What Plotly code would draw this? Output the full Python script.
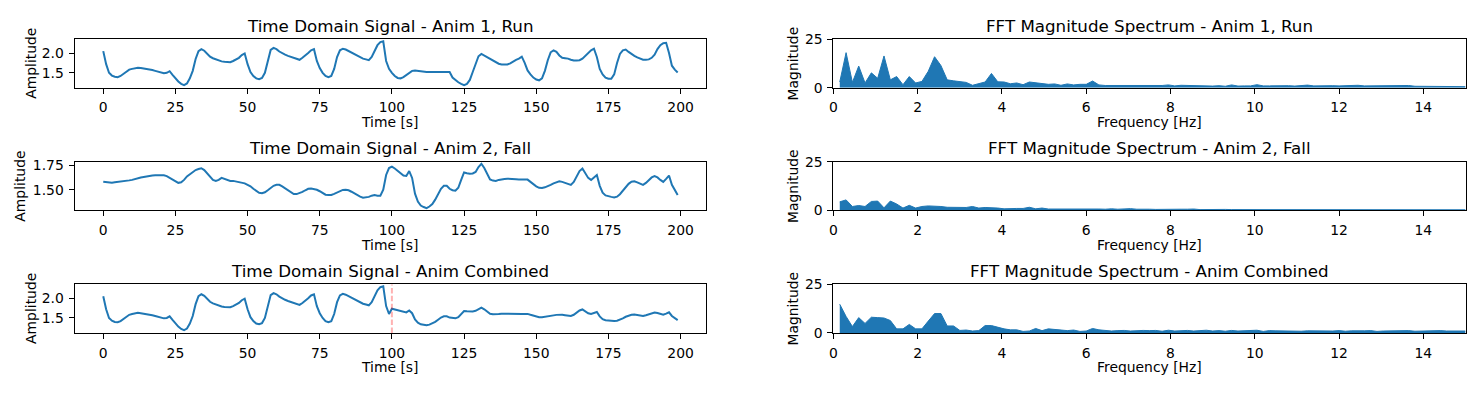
import numpy as np
import plotly.graph_objs as go

# Окно 1475x393, у body стандартный отступ 8px
PAGE_W, PAGE_H = 1475, 393
BODY_MARGIN = 8
W, H = PAGE_W - 2 * BODY_MARGIN, PAGE_H - 2 * BODY_MARGIN

# Временные сигналы (200 отсчётов)
time_s = list(range(200))

run_signal = [
    2.05, 1.72, 1.50, 1.43, 1.40, 1.39, 1.42, 1.48, 1.54, 1.58,
    1.60, 1.62, 1.63, 1.62, 1.61, 1.60, 1.58, 1.57, 1.55, 1.53,
    1.51, 1.49, 1.50, 1.54, 1.45, 1.36, 1.28, 1.22, 1.19, 1.23,
    1.36, 1.55, 1.85, 2.05, 2.10, 2.06, 1.98, 1.91, 1.87, 1.84,
    1.81, 1.79, 1.78, 1.77, 1.77, 1.80, 1.84, 1.88, 1.95, 1.99,
    1.72, 1.52, 1.42, 1.36, 1.34, 1.37, 1.50, 1.80, 2.08, 2.13,
    2.10, 2.04, 1.99, 1.96, 1.93, 1.90, 1.87, 1.84, 1.83, 1.88,
    1.93, 2.00, 2.07, 2.10, 1.80, 1.62, 1.50, 1.42, 1.39, 1.42,
    1.60, 1.90, 2.07, 2.11, 2.09, 2.05, 2.00, 1.96, 1.92, 1.89,
    1.86, 1.84, 1.82, 1.90, 2.05, 2.20, 2.28, 2.30, 1.80, 1.60,
    1.50, 1.42, 1.37, 1.36, 1.39, 1.44, 1.50, 1.55, 1.56, 1.55,
    1.53, 1.53, 1.52, 1.52, 1.52, 1.52, 1.52, 1.51, 1.51, 1.51,
    1.52, 1.38, 1.31, 1.26, 1.22, 1.19, 1.22, 1.32, 1.52, 1.72,
    1.92, 1.98, 1.94, 1.89, 1.84, 1.80, 1.77, 1.73, 1.71, 1.71,
    1.71, 1.74, 1.79, 1.83, 1.86, 1.91, 1.75, 1.56, 1.46, 1.38,
    1.33, 1.31, 1.36, 1.55, 1.82, 2.02, 2.07, 2.03, 1.94, 1.88,
    1.87, 1.86, 1.83, 1.81, 1.81, 1.82, 1.86, 1.93, 2.00, 2.07,
    2.11, 1.90, 1.60, 1.46, 1.38, 1.35, 1.35, 1.46, 1.75, 1.98,
    2.07, 2.09, 2.03, 1.97, 1.93, 1.89, 1.85, 1.83, 1.83, 1.84,
    1.88, 1.96, 2.10, 2.20, 2.25, 2.26, 2.00, 1.68, 1.58, 1.51,
]

fall_signal = [
    1.58, 1.575, 1.57, 1.57, 1.575, 1.578, 1.58, 1.585, 1.59, 1.595,
    1.60, 1.61, 1.615, 1.625, 1.63, 1.637, 1.641, 1.644, 1.646, 1.647,
    1.647, 1.646, 1.638, 1.62, 1.60, 1.58, 1.57, 1.575, 1.60, 1.635,
    1.66, 1.68, 1.70, 1.71, 1.718, 1.70, 1.667, 1.63, 1.60, 1.59,
    1.60, 1.62, 1.61, 1.595, 1.59, 1.59, 1.585, 1.58, 1.575, 1.565,
    1.55, 1.535, 1.51, 1.49, 1.47, 1.465, 1.475, 1.495, 1.52, 1.54,
    1.55, 1.55, 1.535, 1.515, 1.49, 1.468, 1.456, 1.456, 1.465, 1.478,
    1.495, 1.51, 1.513, 1.51, 1.50, 1.485, 1.465, 1.45, 1.446, 1.448,
    1.458, 1.47, 1.486, 1.498, 1.50, 1.495, 1.48, 1.462, 1.45, 1.43,
    1.42, 1.422, 1.428, 1.44, 1.446, 1.44, 1.44, 1.50, 1.65, 1.72,
    1.735, 1.715, 1.69, 1.67, 1.645, 1.64, 1.69, 1.62, 1.46, 1.38,
    1.34, 1.325, 1.314, 1.33, 1.355, 1.40, 1.455, 1.51, 1.54, 1.54,
    1.51, 1.495, 1.49, 1.52, 1.60, 1.675, 1.668, 1.662, 1.665, 1.68,
    1.73, 1.763, 1.72, 1.655, 1.605, 1.593, 1.59, 1.60, 1.608, 1.61,
    1.612, 1.612, 1.61, 1.607, 1.604, 1.603, 1.603, 1.603, 1.58, 1.555,
    1.535, 1.52, 1.518, 1.525, 1.535, 1.55, 1.565, 1.578, 1.586, 1.58,
    1.57, 1.56, 1.55, 1.58, 1.64, 1.69, 1.715, 1.67, 1.62, 1.60,
    1.63, 1.65, 1.54, 1.47, 1.443, 1.432, 1.428, 1.422, 1.43, 1.455,
    1.49, 1.53, 1.56, 1.582, 1.586, 1.575, 1.56, 1.55, 1.57, 1.596,
    1.625, 1.638, 1.625, 1.60, 1.58, 1.61, 1.644, 1.55, 1.50, 1.446,
]

# Склейка: первая половина от "Run", вторая от "Fall"
switch_t = 100
combined_signal = run_signal[:switch_t] + fall_signal[switch_t:]

# Спектры (бины 1..100, шаг 30 Гц / 200 = 0.15 Гц)
fs_hz = 30.0
n_samples = 200
freq_hz = [k * fs_hz / n_samples for k in range(1, 101)]

fft_run = [
    3.0, 18.1, 2.8, 11.2, 2.5, 7.7, 4.9, 16.4, 4.1, 5.8,
    1.6, 5.8, 2.5, 3.3, 8.5, 16.0, 11.5, 4.1, 3.6, 3.1,
    2.8, 1.3, 2.1, 3.0, 7.4, 3.1, 3.0, 2.1, 2.5, 1.6,
    3.0, 2.5, 2.1, 1.8, 2.0, 1.3, 2.0, 1.5, 1.8, 1.8,
    3.5, 1.5, 1.2, 1.2, 1.3, 1.2, 1.3, 1.3, 1.4, 1.3,
    1.1, 1.2, 1.5, 1.0, 1.3, 1.2, 1.1, 1.0, 1.2, 0.9,
    1.1, 0.8, 1.5, 0.9, 1.0, 1.0, 1.6, 1.0, 1.0, 1.1,
    1.2, 1.1, 0.9, 1.0, 1.4, 1.0, 1.1, 1.0, 1.1, 1.0,
    1.1, 1.2, 1.3, 1.0, 1.0, 1.1, 1.0, 1.1, 1.0, 1.1,
    1.2, 0.8, 0.8, 0.9, 0.8, 0.9, 0.8, 0.8, 0.8, 0.6,
]

fft_fall = [
    4.4, 5.4, 2.0, 2.5, 2.0, 4.6, 4.8, 1.3, 4.8, 3.3,
    1.2, 2.6, 1.2, 2.0, 2.3, 2.3, 2.0, 1.6, 1.5, 1.6,
    1.5, 2.0, 1.2, 1.5, 1.5, 1.2, 0.8, 1.0, 1.0, 1.0,
    1.6, 0.8, 1.2, 0.7, 0.7, 0.8, 0.7, 0.8, 1.0, 1.0,
    0.8, 0.7, 0.6, 0.8, 0.6, 0.7, 0.9, 0.6, 0.7, 0.6,
    0.5, 0.6, 0.7, 0.5, 0.6, 0.6, 0.7, 0.4, 0.5, 0.4,
    0.4, 0.5, 0.4, 0.4, 0.5, 0.4, 0.5, 0.4, 0.4, 0.5,
    0.4, 0.4, 0.5, 0.4, 0.4, 0.4, 0.5, 0.4, 0.4, 0.4,
    0.4, 0.5, 0.4, 0.4, 0.4, 0.3, 0.4, 0.4, 0.4, 0.3,
    0.4, 0.4, 0.3, 0.4, 0.4, 0.3, 0.4, 0.3, 0.4, 0.3,
]

fft_combined = [
    14.8, 8.5, 3.3, 7.9, 4.9, 8.1, 7.9, 7.7, 6.4, 2.1,
    2.1, 4.4, 2.1, 2.1, 6.1, 10.0, 10.0, 3.6, 3.6, 1.3,
    1.5, 1.0, 1.2, 3.8, 3.8, 2.8, 2.1, 1.6, 1.6, 0.8,
    1.0, 2.3, 1.2, 2.1, 1.8, 1.3, 1.2, 1.5, 0.8, 1.0,
    2.3, 1.6, 1.2, 1.0, 1.2, 1.3, 1.0, 1.2, 1.3, 1.2,
    1.3, 0.9, 1.4, 1.0, 1.1, 1.3, 1.0, 1.2, 1.4, 1.0,
    1.2, 0.9, 1.3, 1.0, 1.2, 1.3, 1.4, 0.8, 1.2, 1.1,
    1.0, 1.2, 1.0, 0.9, 1.1, 1.0, 0.9, 1.1, 1.0, 1.2,
    0.9, 1.1, 1.0, 1.1, 1.2, 0.8, 1.0, 1.1, 0.9, 1.0,
    1.2, 0.9, 1.0, 1.1, 1.0, 1.2, 1.0, 1.1, 1.2, 1.0,
]

row_names = ['Anim 1, Run', 'Anim 2, Fall', 'Anim Combined']
signals = [run_signal, fall_signal, combined_signal]
spectra = [fft_run, fft_fall, fft_combined]

BLUE = '#1f77b4'
FONT = 'DejaVu Sans'

# Положение осей в пикселях окна (левый/правый столбец, три строки)
col_px = [(70.7, 704.3), (831.7, 1465.5)]
row_px = [(32.3, 83.0), (160.3, 211.0), (288.3, 339.0)]
sig_ranges = [[1.12, 2.35], [1.291, 1.783], [1.12, 2.35]]
sig_dtick = [0.5, 0.25, 0.5]
sig_fmt = ['.1f', '.2f', '.1f']
ylabel_px = [26.3, 16.6, 26.3]


def px_x(x):
    return (x - BODY_MARGIN) / W


def px_y(y):
    return 1 - (y - BODY_MARGIN) / H


fig = go.Figure()
annotations = []
axis_common = dict(
    showline=True, linecolor='black', linewidth=1, mirror=True,
    ticks='outside', ticklen=5, tickwidth=1, tickcolor='black',
    ticklabelstandoff=2,
    showgrid=False, zeroline=False,
    tickfont=dict(family=FONT, size=13.9, color='black'),
)

for r in range(3):
    top, bottom = row_px[r]
    ydom = [px_y(bottom), px_y(top)]
    for c in range(2):
        idx = r * 2 + c + 1
        sfx = '' if idx == 1 else str(idx)
        left, right = col_px[c]
        xdom = [px_x(left), px_x(right)]

        if c == 0:
            fig.add_trace(go.Scatter(
                x=time_s, y=signals[r], mode='lines',
                line=dict(color=BLUE, width=2),
                xaxis='x' + sfx, yaxis='y' + sfx, showlegend=False
            ))
            xa = dict(range=[-9.95, 208.95], dtick=25, tick0=0)
            ya = dict(range=sig_ranges[r], dtick=sig_dtick[r], tick0=0,
                      tickformat=sig_fmt[r])
            title = 'Time Domain Signal - ' + row_names[r]
            xlab, ylab = 'Time [s]', 'Amplitude'
            ylab_x = ylabel_px[r]
        else:
            fig.add_trace(go.Scatter(
                x=freq_hz, y=spectra[r], mode='lines', fill='tozeroy',
                fillcolor=BLUE, line=dict(color=BLUE, width=1),
                xaxis='x' + sfx, yaxis='y' + sfx, showlegend=False
            ))
            xa = dict(range=[0, 15], dtick=2, tick0=0)
            ya = dict(range=[0, 25], tickvals=[0, 25])
            title = 'FFT Magnitude Spectrum - ' + row_names[r]
            xlab, ylab = 'Frequency [Hz]', 'Magnitude'
            ylab_x = 791

        fig.layout['xaxis' + sfx] = dict(domain=xdom, anchor='y' + sfx, **xa, **axis_common)
        fig.layout['yaxis' + sfx] = dict(domain=ydom, anchor='x' + sfx, **ya, **axis_common)

        xc = px_x((left + right) / 2)
        annotations.append(dict(
            text=title, x=xc, y=px_y(top - 14), xref='paper', yref='paper',
            xanchor='center', yanchor='middle', showarrow=False,
            font=dict(family=FONT, size=16.7, color='black')
        ))
        annotations.append(dict(
            text=xlab, x=xc, y=px_y(bottom + 36), xref='paper', yref='paper',
            xanchor='center', yanchor='middle', showarrow=False,
            font=dict(family=FONT, size=13.9, color='black')
        ))
        annotations.append(dict(
            text=ylab, x=px_x(ylab_x), y=px_y((top + bottom) / 2),
            xref='paper', yref='paper', textangle=-90,
            xanchor='center', yanchor='middle', showarrow=False,
            font=dict(family=FONT, size=13.9, color='black')
        ))

# Граница склейки на нижнем графике
fig.add_shape(type='line', x0=switch_t, x1=switch_t, y0=0, y1=1,
              xref='x5', yref='y5 domain',
              line=dict(color='rgba(255,0,0,0.3)', width=2, dash='5.5px,2.4px'))

fig.update_layout(
    width=W, height=H,
    margin=dict(l=0, r=0, t=0, b=0),
    paper_bgcolor='white', plot_bgcolor='white',
    annotations=annotations,
    font=dict(family=FONT, color='black'),
)

fig.write_html('out.html', config={'displayModeBar': False})
